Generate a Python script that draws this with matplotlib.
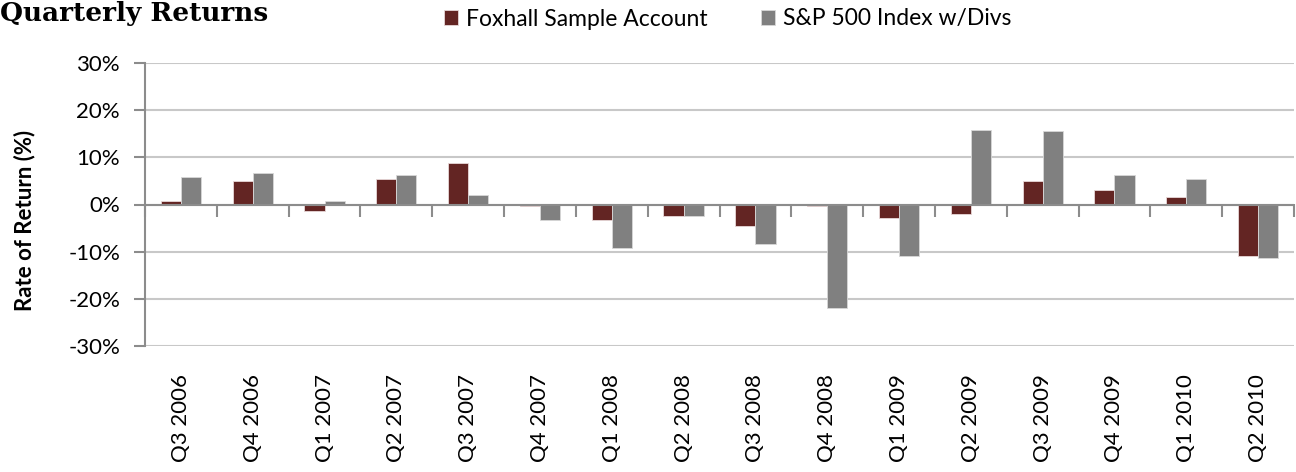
import matplotlib
matplotlib.use("Agg")
import matplotlib.pyplot as plt
import numpy as np
from matplotlib.ticker import PercentFormatter, MultipleLocator

quarters = ["Q3 2006", "Q4 2006", "Q1 2007", "Q2 2007", "Q3 2007", "Q4 2007",
            "Q1 2008", "Q2 2008", "Q3 2008", "Q4 2008", "Q1 2009", "Q2 2009",
            "Q3 2009", "Q4 2009", "Q1 2010", "Q2 2010"]
foxhall = [0.8, 5.0, -1.3, 5.5, 8.9, -0.4, -3.3, -2.5, -4.6, -0.4, -2.9, -2.1,
           5.0, 3.0, 1.6, -10.9]
sp500 = [5.9, 6.7, 0.8, 6.3, 2.1, -3.3, -9.3, -2.5, -8.4, -21.9, -11.0, 15.9,
         15.6, 6.3, 5.5, -11.3]

FOX_COLOR = "#632523"
SP_COLOR = "#808080"
AXIS_GRAY = "#8c8c8c"

plt.rcParams["font.family"] = ["Lato", "DejaVu Sans"]
plt.rcParams["axes.unicode_minus"] = False

fig = plt.figure(figsize=(12.96, 4.72), dpi=100)
ax = fig.add_axes([145 / 1296, 126 / 472, 1149 / 1296, 283 / 472])

x = np.arange(len(quarters))
w = 0.28
ax.bar(x - w / 2, foxhall, w, color=FOX_COLOR, edgecolor="#e8d8d8", linewidth=0.6,
       label="Foxhall Sample Account", zorder=3)
ax.bar(x + w / 2, sp500, w, color=SP_COLOR, edgecolor="#d8d8d8", linewidth=0.6,
       label="S&P 500 Index w/Divs", zorder=3)

ax.set_xlim(-0.5, len(quarters) - 0.5)
ax.set_ylim(-30, 30)
ax.yaxis.set_major_locator(MultipleLocator(10))
ax.yaxis.set_major_formatter(PercentFormatter(decimals=0))
ax.grid(axis="y", color="#c8c8c8", linewidth=1.5, zorder=0)
ax.axhline(0, color=AXIS_GRAY, linewidth=1.5, zorder=4)

for s in ["top", "right", "bottom"]:
    ax.spines[s].set_visible(False)
ax.spines["left"].set_color(AXIS_GRAY)
ax.spines["left"].set_linewidth(1.5)

ax.tick_params(axis="y", direction="out", length=8, width=1.5, color=AXIS_GRAY,
               labelsize=16, pad=10)
ax.set_xticks(x)
ax.set_xticklabels(quarters, rotation=90, fontsize=16)
ax.tick_params(axis="x", length=0, pad=20)

# separator ticks hanging below the zero line
sec = ax.secondary_xaxis(0.5)
sec.set_xticks(np.arange(len(quarters) + 1) - 0.5)
sec.set_xticklabels([])
sec.tick_params(direction="in", length=9, width=1.5, color=AXIS_GRAY)
for s in sec.spines.values():
    s.set_visible(False)

ax.set_ylabel("Rate of Return (%)", fontsize=16, fontweight="bold")
ax.yaxis.set_label_coords(-0.0957, 0.442)

fig.text(0.0, 1 - 21 / 472, "Quarterly Returns", family="DejaVu Serif",
         fontweight="bold", fontsize=19, ha="left", va="baseline")

fig.legend(loc="center left", bbox_to_anchor=(444 / 1296, 1 - 19 / 472), ncol=2,
           frameon=False, fontsize=16.5, handlelength=0.62, handleheight=0.62,
           handletextpad=0.35, columnspacing=2.3, borderpad=0, borderaxespad=0)

fig.savefig("out.png", dpi=100)
